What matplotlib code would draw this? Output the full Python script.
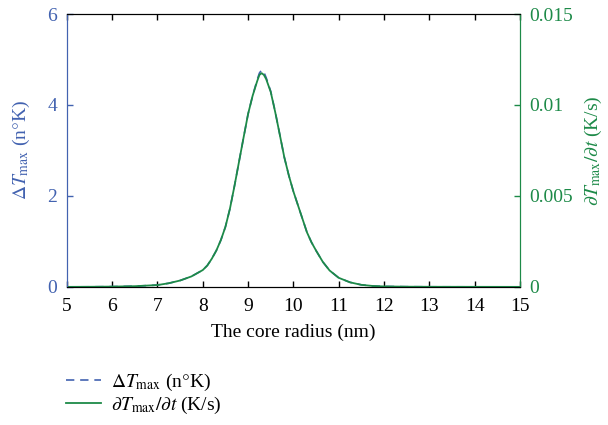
import matplotlib
matplotlib.use("Agg")
import matplotlib.pyplot as plt

plt.rcParams['font.family'] = ['Liberation Serif', 'DejaVu Serif']
plt.rcParams['mathtext.fontset'] = 'stix'

radius = [5, 5.5, 6, 6.5, 7, 7.25, 7.5, 7.75, 8.0,
          8.1, 8.2, 8.3, 8.4, 8.5, 8.6, 8.7, 8.8, 8.9, 9.0, 9.1, 9.2,
          9.25, 9.3, 9.35,
          9.4, 9.5, 9.6, 9.7, 9.8, 9.9, 10.0, 10.1, 10.2, 10.3, 10.4, 10.5,
          10.65, 10.8, 11.0, 11.25, 11.5, 11.75, 12,
          12.5, 13, 14, 15]
delta_T = [0.0, 0.002, 0.006, 0.015, 0.04, 0.08, 0.14, 0.23, 0.37,
           0.47, 0.62, 0.8, 1.03, 1.32, 1.72, 2.22, 2.75, 3.28, 3.8, 4.2, 4.55,
           4.7, 4.77, 4.72,
           4.6, 4.3, 3.85, 3.35, 2.85, 2.45, 2.1, 1.8, 1.5, 1.2, 0.98, 0.8,
           0.55, 0.36, 0.2, 0.1, 0.045, 0.02, 0.01,
           0.004, 0.002, 0.001, 0.0]
dT_dt = [0.0, 0.000005, 0.000015, 0.0000375, 0.0001, 0.0002, 0.00035, 0.000575, 0.000925,
         0.001175, 0.00155, 0.002, 0.002575, 0.0033, 0.0043, 0.00555, 0.006875, 0.0082,
         0.0095, 0.0105, 0.0113,
         0.01165, 0.01175, 0.01165,
         0.01142, 0.01072, 0.0096, 0.008375, 0.007125, 0.006125, 0.00525, 0.0045,
         0.00375, 0.003, 0.00245, 0.002,
         0.001375, 0.0009, 0.0005, 0.00025, 0.0001125, 0.00005, 0.000025,
         0.00001, 0.000005, 0.0000025, 0.0]

xticks = [5, 6, 7, 8, 9, 10, 11, 12, 13, 14, 15]
left_ticks = [0, 2, 4, 6]
right_ticks = [0, 0.005, 0.01, 0.015]
right_labels = ["0", "0.005", "0.01", "0.015"]

blue = '#4262b0'
green = '#1d8a48'

fig = plt.figure(figsize=(6.08, 4.25), dpi=100)
ax = fig.add_axes([0.110, 0.325, 0.745, 0.642])
ax2 = ax.twinx()

l1, = ax.plot(radius, delta_T, color=blue, ls='--', lw=1.2, dashes=(5, 3.5),
              label=r'$\Delta T_{\mathrm{max}}$ (n$\degree$K)')
l2, = ax2.plot(radius, dT_dt, color=green, lw=1.3,
               label=r'$\partial T_{\mathrm{max}}/\partial t$ (K/s)')

ax.set_xlim(5, 15)
ax.set_ylim(0, 6)
ax2.set_ylim(0, 0.015)
ax.set_xticks(xticks)
ax.set_xticklabels([str(t) for t in xticks])
ax.set_yticks(left_ticks)
ax2.set_yticks(right_ticks)
ax2.set_yticklabels(right_labels)

fs = 14
ax.tick_params(axis='x', direction='in', top=True, length=4, width=1, labelsize=fs, pad=8)
ax.tick_params(axis='y', direction='in', colors=blue, length=4, width=1, labelsize=fs, pad=7)
ax2.tick_params(axis='y', direction='in', colors=green, length=4, width=1, labelsize=fs, pad=7)
ax2.tick_params(axis='x', top=False, bottom=False)

for a in (ax, ax2):
    a.spines['left'].set_color(blue)
    a.spines['right'].set_color(green)
    a.spines['top'].set_color('black')
    a.spines['bottom'].set_color('black')

ax.set_xlabel('The core radius (nm)', fontsize=fs, labelpad=6)
ax.set_ylabel(r'$\Delta T_{\mathrm{max}}$ (n$\degree$K)', color=blue, fontsize=fs, labelpad=11)
ax2.set_ylabel(r'$\partial T_{\mathrm{max}}/\partial t$ (K/s)', color=green, fontsize=fs,
               rotation=90, labelpad=7)

fig.legend(handles=[l1, l2], loc='upper left', bbox_to_anchor=(0.108, 0.125),
           frameon=False, fontsize=fs, handlelength=1.8, handletextpad=0.55,
           labelspacing=0.1, borderaxespad=0, borderpad=0)

fig.savefig('out.png', dpi=100)
